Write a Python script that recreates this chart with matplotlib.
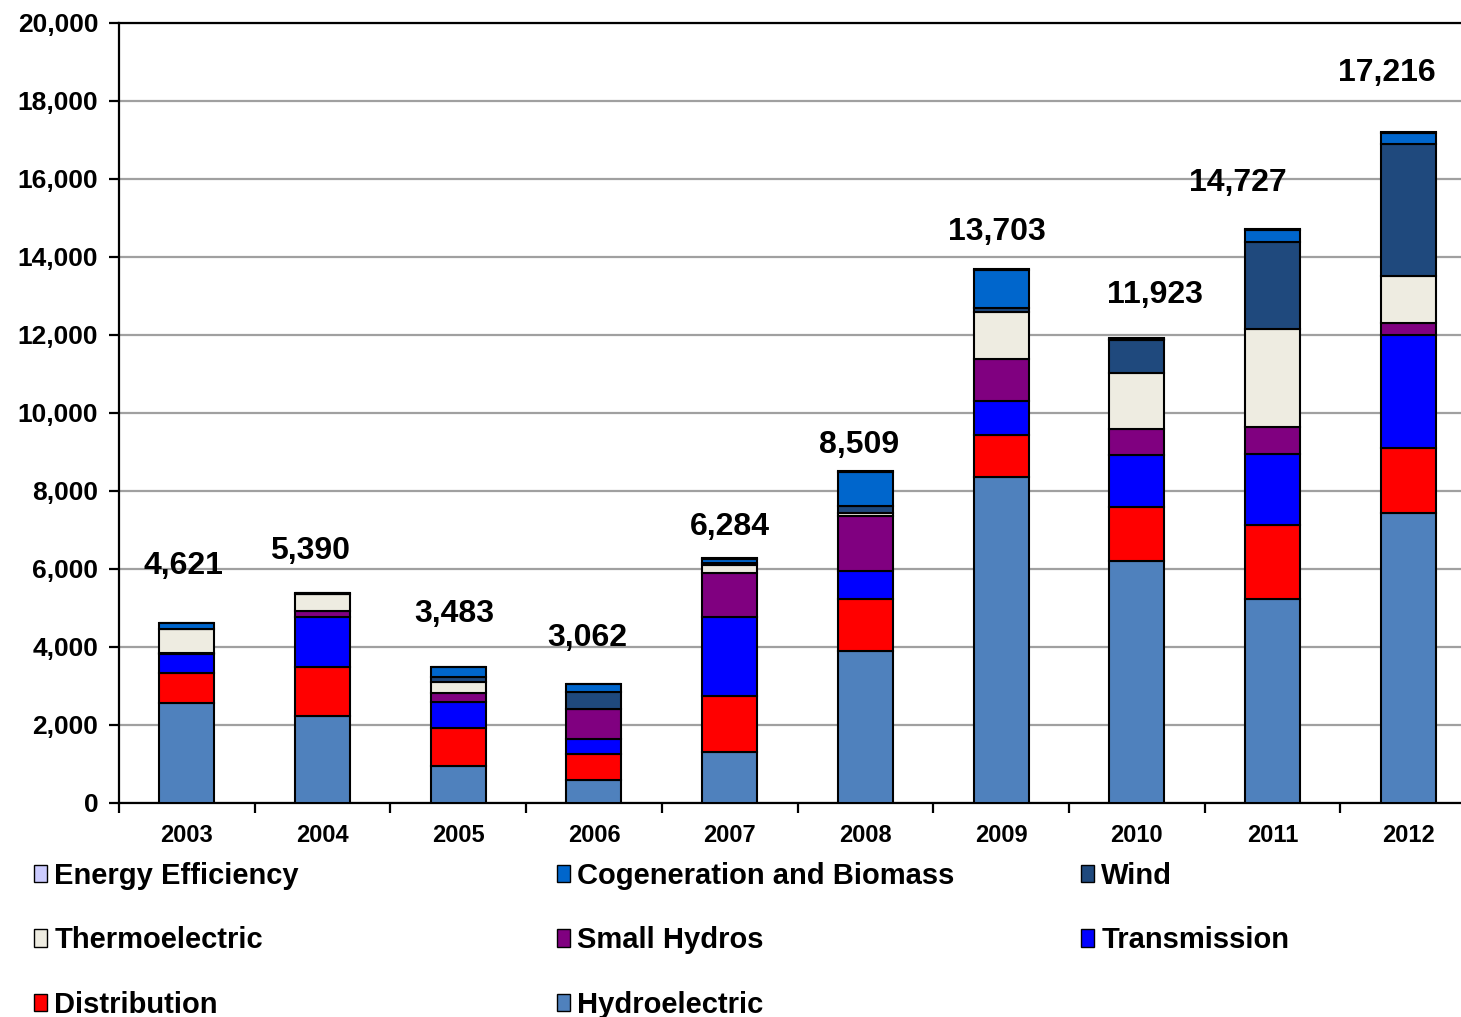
import matplotlib
matplotlib.use("Agg")
import matplotlib.pyplot as plt
import numpy as np
from matplotlib.ticker import FuncFormatter, FixedLocator

plt.rcParams['font.family'] = ['Liberation Sans', 'DejaVu Sans']
plt.rcParams['font.weight'] = 'bold'

years = ['2003', '2004', '2005', '2006', '2007', '2008', '2009', '2010', '2011', '2012']
hydro = [2560, 2220, 950, 590, 1320, 3900, 8350, 6210, 5230, 7440]
distribution = [780, 1280, 970, 670, 1420, 1330, 1090, 1390, 1900, 1650]
transmission = [470, 1270, 660, 390, 2040, 720, 870, 1320, 1810, 2910]
small_hydros = [40, 150, 250, 770, 1130, 1410, 1070, 670, 710, 300]
thermo = [620, 450, 260, 0, 190, 80, 1220, 1440, 2500, 1220]
wind = [0, 0, 150, 420, 60, 180, 80, 840, 2240, 3380]
cogen = [151, 20, 243, 222, 104, 859, 993, 23, 297, 286]
energy_eff = [0, 0, 0, 0, 20, 30, 30, 30, 40, 30]

series = [
    ('Hydroelectric', hydro, '#4F81BD'),
    ('Distribution', distribution, '#FF0000'),
    ('Transmission', transmission, '#0000FF'),
    ('Small Hydros', small_hydros, '#800080'),
    ('Thermoelectric', thermo, '#EEECE1'),
    ('Wind', wind, '#1F497D'),
    ('Cogeneration and Biomass', cogen, '#0066CC'),
    ('Energy Efficiency', energy_eff, '#CCCCFF'),
]

# label offsets in pixels (layout only)
label_dx = [-3, -13, -4, -7, 0, -6, -4, 18, -35, -21]
label_dy = [57, 42, 53, 46, 31, 26, 37, 43, 46, 59]

W, H = 1461, 1017
fig = plt.figure(figsize=(W / 100, H / 100), dpi=100)
left_px, right_px, top_px, bot_px = 119, 1476, 23, 803
ax = fig.add_axes([left_px / W, 1 - bot_px / H, (right_px - left_px) / W, (bot_px - top_px) / H])

x = np.arange(len(years))
bottom = np.zeros(len(years))
handles = {}
for name, vals, col in series:
    v = np.array(vals, dtype=float)
    b = ax.bar(x, v, width=0.405, bottom=bottom, color=col, edgecolor='black',
               linewidth=1.5, label=name, zorder=3)
    handles[name] = b
    bottom += v

totals = bottom
for i, t in enumerate(totals):
    ax.annotate(f"{int(round(t)):,}", xy=(x[i], t), xytext=(label_dx[i], label_dy[i]),
                textcoords='offset pixels', ha='center', va='center',
                fontsize=23, fontweight='bold', color='black', zorder=5)

ax.set_xlim(-0.5, 9.5)
ax.set_ylim(0, 20000)
ax.yaxis.set_major_locator(FixedLocator(np.arange(0, 20001, 2000)))
ax.yaxis.set_major_formatter(FuncFormatter(lambda v, p: f"{int(v):,}"))
ax.grid(axis='y', color='#A0A0A0', linewidth=1.6, zorder=0)
ax.set_axisbelow(True)

ax.set_xticks(x)
ax.set_xticklabels(years)
ax.set_xticks(np.arange(-0.5, 10.0, 1.0), minor=True)
ax.tick_params(axis='x', which='major', length=0, pad=15, labelsize=17)
ax.tick_params(axis='x', which='minor', length=7, width=1.6, direction='out')
ax.tick_params(axis='y', which='major', length=7, width=1.6, direction='out', pad=8, labelsize=19)
for lab in ax.get_xticklabels() + ax.get_yticklabels():
    lab.set_fontweight('bold')

for s in ['left', 'bottom', 'top']:
    ax.spines[s].set_linewidth(1.6)
    ax.spines[s].set_color('black')
ax.spines['right'].set_visible(False)

cols = [
    ['Energy Efficiency', 'Thermoelectric', 'Distribution'],
    ['Cogeneration and Biomass', 'Small Hydros', 'Hydroelectric'],
    ['Wind', 'Transmission'],
]
col_x = [34, 557, 1081]
for cx, names in zip(col_x, cols):
    leg = fig.legend([handles[n] for n in names], names, loc='upper left',
                     bbox_to_anchor=(cx / W, 1 - 862 / H), frameon=False,
                     prop={'size': 21, 'weight': 'bold'}, handlelength=0.45,
                     handleheight=0.55, handletextpad=0.25, labelspacing=1.25,
                     borderpad=0, borderaxespad=0)
    for h in leg.legend_handles:
        h.set_linewidth(1.0)

fig.savefig('out.png', dpi=100)
